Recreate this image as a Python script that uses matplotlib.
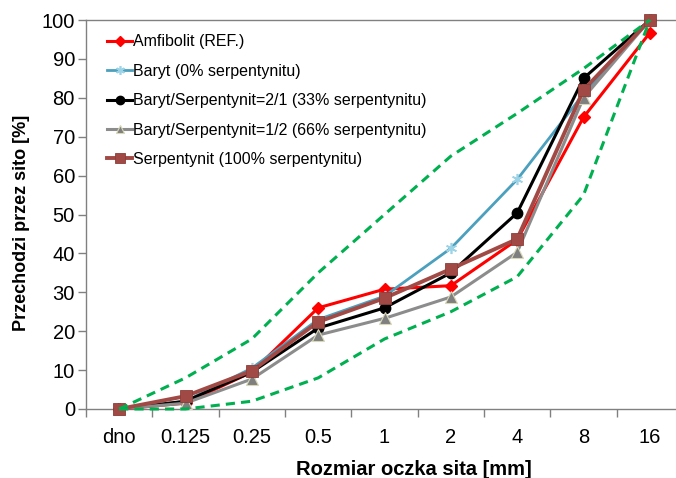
import matplotlib
matplotlib.use("Agg")
import matplotlib.pyplot as plt

plt.rcParams['font.family'] = ['Liberation Sans', 'DejaVu Sans']

categories = ["dno", "0.125", "0.25", "0.5", "1", "2", "4", "8", "16"]

amfibolit = [0, 1.5, 9.5, 26.0, 30.8, 31.7, 43.5, 75.0, 96.7]
baryt = [0, 2.0, 10.5, 23.0, 29.0, 41.3, 59.0, 81.0, 100]
baryt_serp_21 = [0, 2.0, 9.5, 20.8, 26.0, 35.0, 50.4, 85.0, 100]
baryt_serp_12 = [0, 1.5, 7.7, 19.0, 23.3, 28.8, 40.3, 80.0, 100]
serpentynit = [0, 3.3, 9.8, 22.4, 28.5, 36.0, 43.7, 82.0, 100]
upper_limit = [0, 8, 18, 35, 50, 65, 76, 87.5, 100]
lower_limit = [0, 0, 2, 8, 18, 25, 34, 55, 100]

labels = ["Amfibolit (REF.)", "Baryt (0% serpentynitu)",
          "Baryt/Serpentynit=2/1 (33% serpentynitu)",
          "Baryt/Serpentynit=1/2 (66% serpentynitu)",
          "Serpentynit (100% serpentynitu)"]

fig = plt.figure(figsize=(6.76, 4.78), dpi=100)
ax = fig.add_axes([86/676, 69/478, 597/676, 389/478])

x = list(range(len(categories)))

ax.plot(x, amfibolit, color='#FF0000', lw=2.2, marker='D', ms=6,
        mfc='#FF0000', mec='#FF0000', label=labels[0], clip_on=False, zorder=3)
ax.plot(x, baryt, color='#4BA0BE', lw=2.0, marker=(6, 2, 0), ms=8,
        mec='#9DD3E6', mew=1.2, label=labels[1], clip_on=False, zorder=3)
ax.plot(x, baryt_serp_21, color='#000000', lw=2.2, marker='o', ms=7.5,
        mfc='#000000', mec='#000000', label=labels[2], clip_on=False, zorder=3)
ax.plot(x, baryt_serp_12, color='#8C8C8C', lw=2.2, marker='^', ms=8,
        mfc='#7F7F7F', mec='#D8D8B8', mew=0.8, label=labels[3], clip_on=False, zorder=3)
ax.plot(x, serpentynit, color='#A14A45', lw=2.8, marker='s', ms=9,
        mfc='#A14A45', mec='#8E3C38', mew=0.6, label=labels[4], clip_on=False, zorder=3)
ax.plot(x, upper_limit, color='#00B050', lw=2.2, ls=(0, (3, 2)), clip_on=False, zorder=4)
ax.plot(x, lower_limit, color='#00B050', lw=2.2, ls=(0, (3, 2)), clip_on=False, zorder=4)

ax.set_xlim(-0.5, len(categories) - 0.5)
ax.set_ylim(0, 100)
ax.set_yticks(range(0, 101, 10))
ax.tick_params(axis='y', labelsize=14.5, length=6, width=1, color='#808080',
               direction='out', pad=2)

ax.set_xticks([i - 0.5 for i in x] + [len(categories) - 0.5])
ax.set_xticklabels([])
ax.tick_params(axis='x', which='major', length=6, width=1, color='#808080', direction='out')
ax.set_xticks(x, minor=True)
ax.set_xticklabels(categories, minor=True)
ax.tick_params(axis='x', which='minor', length=0, labelsize=14.5, pad=13.5)

for s in ax.spines.values():
    s.set_color('#808080')
    s.set_linewidth(1)

ax.set_xlabel("Rozmiar oczka sita [mm]", fontsize=14.5, fontweight='bold')
ax.xaxis.set_label_coords(0.549, -0.132)
ax.set_ylabel("Przechodzi przez sito [%]", fontsize=13, fontweight='bold')
ax.yaxis.set_label_coords(-0.094, 0.478)

leg = ax.legend(loc='upper left', bbox_to_anchor=(0.035, 0.963), frameon=False,
                fontsize=11.5, handlelength=1.6, handletextpad=0.05,
                labelspacing=0.9, borderpad=0, borderaxespad=0, markerscale=0.8)

fig.savefig("out.png", dpi=100)
